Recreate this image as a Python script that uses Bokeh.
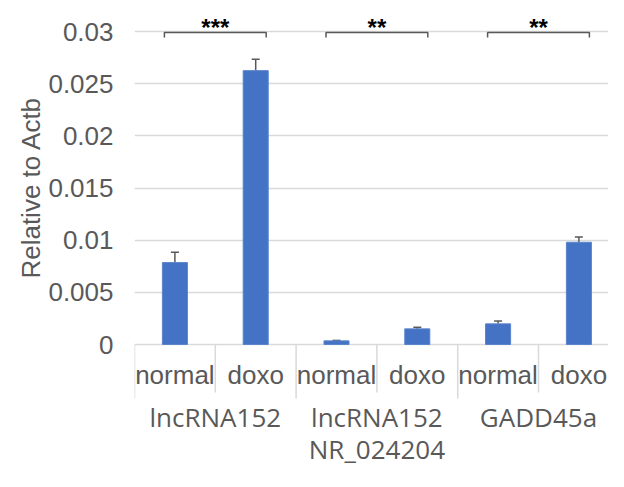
import math
from bokeh.plotting import figure
from bokeh.models import Range1d, FixedTicker, ColumnDataSource, Whisker, Title, TeeHead
from bokeh.core.properties import value
from bokeh.embed import file_html
from bokeh.resources import INLINE

# ---- data ----
groups = ["lncRNA152", "lncRNA152\nNR_024204", "GADD45a"]
conditions = ["normal", "doxo"]
values = [0.00785, 0.02625, 0.00035, 0.0015, 0.00198, 0.0098]
errors = [0.0010, 0.0011, 0.00004, 0.00015, 0.00027, 0.0005]
y_ticks = [0, 0.005, 0.01, 0.015, 0.02, 0.025, 0.03]
y_tick_labels = ["0", "0.005", "0.01", "0.015", "0.02", "0.025", "0.03"]
sig_labels = ["***", "**", "**"]
y_label = "Relative to Actb"

# ---- styling ----
GREY = "#595959"
GRID = "#d9d9d9"
BLUE = "#4472C4"
FONT = "Liberation Sans"
GFONT = "Open Sans"
FRAME_LEFT = 134
SLOT = 80.8
PX_PER_UNIT = 10433.0
ZERO_Y = 344
W, H = 608, 471

n_cond = len(conditions)
n = len(groups) * n_cond
xs = list(range(n))
cat_labels = [c for g in groups for c in conditions]
group_x = [gi * n_cond + (n_cond - 1) / 2 for gi in range(len(groups))]

p = figure(width=W, height=H,
           x_range=Range1d(-0.5, -0.5 + (W - FRAME_LEFT) / SLOT),
           y_range=Range1d(-(H - ZERO_Y) / PX_PER_UNIT, ZERO_Y / PX_PER_UNIT),
           output_backend="svg", toolbar_location=None,
           x_axis_location=None, y_axis_location="left",
           min_border_left=FRAME_LEFT, min_border_right=0, min_border_top=0, min_border_bottom=0)
p.outline_line_color = None
p.background_fill_color = "white"
p.border_fill_color = "white"

ticker = FixedTicker(ticks=y_ticks)
p.yaxis.ticker = ticker
p.yaxis.major_label_overrides = {t: l for t, l in zip(y_ticks, y_tick_labels)}
p.yaxis.axis_line_color = None
p.yaxis.major_tick_line_color = None
p.yaxis.minor_tick_line_color = None
p.yaxis.major_tick_out = 0
p.yaxis.major_tick_in = 0
p.yaxis.major_label_standoff = 21
p.yaxis.major_label_text_font = FONT
p.yaxis.major_label_text_font_size = "26px"
p.yaxis.major_label_text_color = GREY
p.xgrid.grid_line_color = None
p.ygrid.ticker = ticker
p.ygrid.grid_line_color = GRID
p.ygrid.grid_line_width = 1.5

# bars
src = ColumnDataSource(dict(x=xs, top=values, up=[v + e for v, e in zip(values, errors)]))
p.vbar(x="x", top="top", bottom=0, width=0.31, source=src,
       fill_color=BLUE, line_color="#5b84cc", line_width=1)
p.add_layout(Whisker(base="x", lower="top", upper="up", source=src,
                     line_color=GREY, line_width=1.5,
                     upper_head=TeeHead(size=8, line_color=GREY, line_width=1.5),
                     lower_head=None))

# category box dividers
bx = [i - 0.5 for i in range(n + 1)]
by1 = [-0.00518 if i % n_cond == 0 else -0.0046 for i in range(n + 1)]
p.segment(x0=bx, y0=[0] * len(bx), x1=bx, y1=by1, line_color=GRID, line_width=1.5)

# sub-category labels
p.text(x=xs, y=[-0.00297] * n, text=cat_labels, text_align="center", text_baseline="middle",
       text_font=value(FONT), text_font_size="26px", text_color=GREY)
# group labels
p.text(x=group_x, y=[-0.0052] * len(groups), text=groups, text_align="center", text_baseline="top",
       text_font=value(GFONT), text_font_size="26px", text_color=GREY, text_line_height=0.9)

# significance brackets
lvl = 0.0299
tick = 0.00048
half = 0.63
for gx, lab in zip(group_x, sig_labels):
    x0, x1 = gx - half, gx + half
    p.line(x=[x0, x0, x1, x1], y=[lvl - tick, lvl, lvl, lvl - tick], line_color=GREY, line_width=1.5)
p.text(x=group_x, y=[lvl] * len(groups), text=sig_labels, text_align="center", text_baseline="middle",
       y_offset=-5, text_font=value(FONT), text_font_size="24px", text_color="black",
       text_font_style="bold")

# y axis title (aligned to the 0..0.03 value region)
p.add_layout(Title(text=y_label, align="right", offset=96, standoff=0,
                   text_font=FONT, text_font_size="26px", text_font_style="normal",
                   text_color=GREY), "left")

open("out.html", "w").write(file_html(p, INLINE))
